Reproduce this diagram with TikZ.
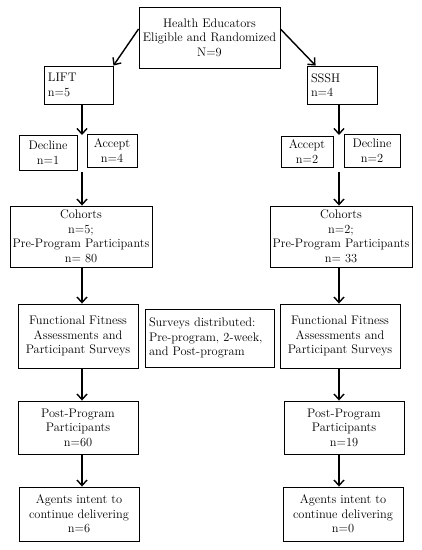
\documentclass[tikz,border=0pt]{standalone}
\usetikzlibrary{arrows.meta,calc}
\begin{document}
\begin{tikzpicture}[x=1pt,y=-1pt,
  box/.style={draw=black,line width=0.9pt,align=center,inner sep=2pt,
    font=\fontsize{12.4}{14.5}\selectfont},
  arr/.style={line width=1.4pt,-{Straight Barb[length=5.5pt,width=10pt,line width=1.4pt]}}]
\useasboundingbox (0,0) rectangle (422,550);
\fill[white] (0,0) rectangle (422,550);
% boxes
\node[box,minimum width=141pt,minimum height=61pt] (top) at (209.5,37.5) {Health Educators\\Eligible and Randomized\\N=9};
\node[box,minimum width=69pt,minimum height=38pt,align=left,text width=61pt] (lift) at (78.5,85) {LIFT\\n=5};
\node[box,minimum width=70pt,minimum height=38pt,align=left,text width=62pt] (sssh) at (342,85) {SSSH\\n=4};
\node[box,minimum width=58pt,minimum height=35pt] (declL) at (48,152.5) {Decline\\n=1};
\node[box,minimum width=50pt,minimum height=33pt] (accL) at (112,150.5) {Accept\\n=4};
\node[box,minimum width=52pt,minimum height=31pt] (accR) at (307,151.5) {Accept\\n=2};
\node[box,minimum width=56pt,minimum height=33pt] (declR) at (372,150.5) {Decline\\n=2};
\node[box,minimum width=142pt,minimum height=61pt] (cohL) at (81,236.5) {Cohorts\\n=5;\\Pre-Program Participants\\n= 80};
\node[box,minimum width=142pt,minimum height=61pt] (cohR) at (341,236.5) {Cohorts\\n=2;\\Pre-Program Participants\\n= 33};
\node[box,minimum width=120pt,minimum height=64pt] (ffL) at (78,336) {Functional Fitness\\Assessments and\\Participant Surveys};
\node[box,minimum width=129pt,minimum height=58pt,align=left,text width=121pt] (surv) at (209.5,338) {Surveys distributed:\\Pre-program, 2-week,\\and Post-program};
\node[box,minimum width=120pt,minimum height=64pt] (ffR) at (340,336) {Functional Fitness\\Assessments and\\Participant Surveys};
\node[box,minimum width=120pt,minimum height=53pt] (postL) at (78,427.5) {Post-Program\\Participants\\n=60};
\node[box,minimum width=120pt,minimum height=53pt] (postR) at (344,427.5) {Post-Program\\Participants\\n=19};
\node[box,minimum width=120pt,minimum height=54pt] (agL) at (79,514) {Agents intent to\\continue delivering\\n=6};
\node[box,minimum width=120pt,minimum height=54pt] (agR) at (343,514) {Agents intent to\\continue delivering\\n=0};
% split points
\coordinate (sLa) at (82,135);
\coordinate (sLb) at (82,172);
\coordinate (sRa) at (339,135);
\coordinate (sRb) at (339,172);
% connectors
\draw[arr] (top.west |- 0,29) -- (lift.north east);
\draw[arr] (top.east |- 0,29) -- ($(sssh.north west)+(9,0)$);
\draw[arr] (sLa |- lift.south) -- (sLa);
\draw[arr] (sRa |- sssh.south) -- (sRa);
\draw[arr] (sLb) -- (sLb |- cohL.north);
\draw[arr] (sRb) -- (sRb |- cohR.north);
\draw[arr] (sLb |- cohL.south) -- (sLb |- ffL.north);
\draw[arr] (sRb |- cohR.south) -- (sRb |- ffR.north);
\draw[arr] (sLb |- ffL.south) -- (sLb |- postL.north);
\draw[arr] (sRb |- ffR.south) -- (sRb |- postR.north);
\draw[arr] (sLb |- postL.south) -- (sLb |- agL.north);
\draw[arr] (sRb |- postR.south) -- (sRb |- agR.north);
\end{tikzpicture}
\end{document}
